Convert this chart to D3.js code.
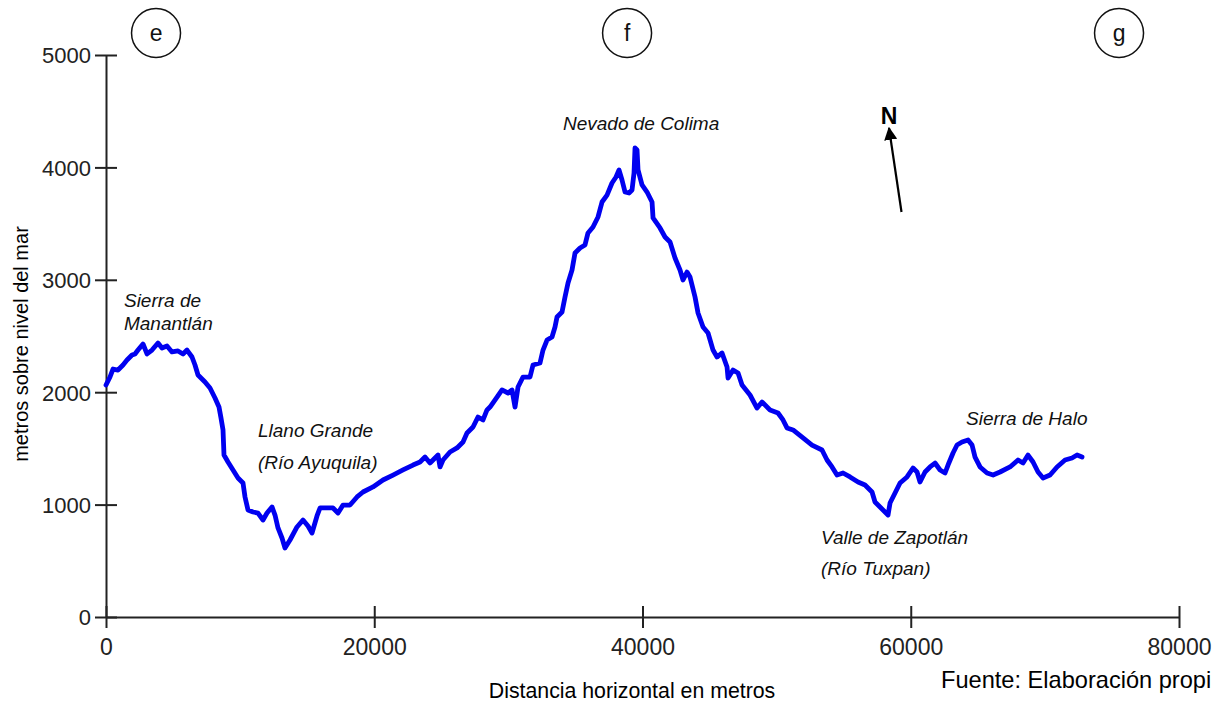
<!DOCTYPE html>
<html>
<head>
<meta charset="utf-8">
<script src="https://cdn.jsdelivr.net/npm/d3@7"></script>
<style>
  body { margin: 0; background: #fff; overflow: hidden; }
  svg { display: block; }
</style>
</head>
<body>
<svg id="chart" width="1215" height="704"></svg>
<script>
// Elevation profile e – f – g: horizontal distance (m) vs. altitude (m a.s.l.)
const distance = [
  0, 298, 522, 895, 1268, 1566, 1939, 2162, 2386, 2759, 3057, 3430, 3877, 4175, 4548,
  4921, 5368, 5741, 6039, 6412, 6636, 6860, 7381, 7754, 8127, 8425, 8574, 8724, 8798,
  9096, 9469, 9842, 10215, 10364, 10588, 10960, 11333, 11706, 12004, 12377, 12601,
  12824, 13123, 13346, 13719, 14241, 14688, 15061, 15359, 15732, 15956, 16925, 17298,
  17671, 18193, 18715, 19162, 19908, 20653, 21399, 22144, 22890, 23412, 23785, 24157,
  24381, 24754, 24903, 25127, 25649, 26171, 26618, 26916, 27364, 27736, 28109, 28407,
  28631, 29153, 29526, 29973, 30271, 30495, 30719, 31092, 31613, 31837, 32359, 32583,
  32881, 33254, 33477, 33627, 34000, 34223, 34447, 34745, 34969, 35341, 35714, 35938,
  36311, 36684, 36982, 37355, 37727, 38026, 38249, 38473, 38697, 38995, 39219, 39368,
  39443, 39592, 39667, 39965, 40338, 40711, 40786, 41306, 41679, 42052, 42425, 42797,
  43021, 43320, 43543, 43916, 44140, 44513, 44886, 45259, 45557, 45930, 46303, 46378,
  46751, 47124, 47422, 48017, 48539, 48912, 49508, 50104, 50477, 50775, 51223, 51969,
  52639, 53385, 53758, 54131, 54503, 54951, 55473, 56069, 56591, 57113, 57336, 57709,
  58082, 58306, 58455, 58828, 59201, 59723, 60170, 60469, 60692, 61065, 61438, 61811,
  62184, 62557, 62780, 63153, 63451, 63824, 64271, 64570, 64793, 65166, 65688, 66135,
  66657, 67402, 67999, 68371, 68744, 69117, 69490, 69863, 70385, 70907, 71503, 72025,
  72398, 72771
];
const elevation = [
  2064, 2135, 2206, 2197, 2242, 2286, 2331, 2340, 2375, 2429, 2340, 2375, 2438, 2393, 2411,
  2358, 2367, 2340, 2375, 2313, 2242, 2153, 2091, 2037, 1948, 1868, 1770, 1664, 1441,
  1379, 1308, 1237, 1192, 1068, 952, 934, 925, 863, 925, 979, 907,
  792, 703, 614, 685, 801, 863, 810, 747, 899, 970, 970, 925,
  996, 996, 1068, 1112, 1157, 1219, 1263, 1308, 1352, 1379, 1423, 1370,
  1397, 1441, 1335, 1397, 1468, 1504, 1557, 1637, 1690, 1779, 1753, 1842,
  1868, 1957, 2020, 1993, 2020, 1868, 2046, 2135, 2135, 2242, 2260, 2375,
  2464, 2491, 2580, 2669, 2714, 2847, 2972, 3087, 3239, 3283, 3310, 3417,
  3470, 3559, 3692, 3754, 3861, 3915, 3977, 3888, 3781, 3772, 3799, 3950,
  4173, 4155, 3977, 3844, 3781, 3692, 3550, 3461, 3381, 3336, 3194, 3087,
  2998, 3069, 3025, 2847, 2705, 2580, 2527, 2375, 2313, 2349, 2224, 2126,
  2197, 2171, 2064, 1975, 1859, 1913, 1842, 1815, 1753, 1682, 1664, 1593,
  1530, 1486, 1397, 1335, 1263, 1281, 1246, 1201, 1174, 1112, 1023, 979,
  934, 907, 1014, 1103, 1192, 1246, 1326, 1290, 1201, 1290, 1335, 1370,
  1308, 1281, 1352, 1459, 1530, 1557, 1575, 1530, 1423, 1335, 1281, 1263,
  1290, 1335, 1397, 1370, 1441, 1379, 1290, 1237, 1263, 1335, 1397, 1415,
  1441, 1423
];

const xTicks = [0, 20000, 40000, 60000, 80000];
const yTicks = [0, 1000, 2000, 3000, 4000, 5000];

// Section letters along the profile and the distance where each sits
const sectionLetters = ["e", "f", "g"];
const sectionDistance = [3730, 38850, 75530];

// Place names (one entry per label, possibly two lines)
const placeNames = [
  ["Sierra de", "Manantlán"],
  ["Llano Grande", "(Río Ayuquila)"],
  ["Nevado de Colima"],
  ["Valle de Zapotlán", "(Río Tuxpan)"],
  ["Sierra de Halo"]
];
// Anchor of each place name in data units: [distance, elevation]
const placeAnchor = [
  [1340, 2760],
  [11330, 1600],
  [34070, 4333],
  [53310, 650],
  [64120, 1708]
];
const placeLineGap = [23, 32, 0, 31, 0];

const xTitle = "Distancia horizontal en metros";
const yTitle = "metros sobre nivel del mar";
const sourceNote = "Fuente: Elaboración propi";
const northLabel = "N";

// ---------- layout ----------
const svg = d3.select("#chart");
const plot = { left: 106, right: 1179, top: 55, bottom: 617 };

const x = d3.scaleLinear().domain([0, 80000]).range([plot.left, plot.right]);
const y = d3.scaleLinear().domain([0, 5000]).range([plot.bottom, plot.top]);

const tickFont = "'Liberation Sans', Arial, sans-serif";
const axisColor = "#222";

// y axis
const gy = svg.append("g")
  .attr("transform", `translate(${plot.left},0)`)
  .call(d3.axisLeft(y).tickValues(yTicks).tickFormat(d3.format("d")).tickSizeOuter(0));
gy.select(".domain").attr("stroke", axisColor).attr("stroke-width", 2);
gy.selectAll(".tick line").attr("x1", -11).attr("x2", 11)
  .attr("stroke", axisColor).attr("stroke-width", 2);
gy.selectAll(".tick text").attr("x", -15).attr("dy", "0.36em")
  .attr("fill", "#222").style("font-family", tickFont).style("font-size", "22px");

// x axis
const gx = svg.append("g")
  .attr("transform", `translate(0,${plot.bottom})`)
  .call(d3.axisBottom(x).tickValues(xTicks).tickFormat(d3.format("d")).tickSizeOuter(0));
gx.select(".domain").attr("stroke", axisColor).attr("stroke-width", 2);
gx.selectAll(".tick line").attr("y1", -11).attr("y2", 11)
  .attr("stroke", axisColor).attr("stroke-width", 2);
gx.selectAll(".tick text").attr("y", 38).attr("dy", 0)
  .attr("fill", "#222").style("font-family", tickFont).style("font-size", "23px");

// profile line
const profile = distance.map((d, i) => [d, elevation[i]]);
svg.append("path")
  .datum(profile)
  .attr("fill", "none")
  .attr("stroke", "#0000f0")
  .attr("stroke-width", 4.8)
  .attr("stroke-linejoin", "round")
  .attr("stroke-linecap", "round")
  .attr("d", d3.line().x(p => x(p[0])).y(p => y(p[1])));

// axis titles
svg.append("text")
  .attr("transform", `translate(28,${(plot.top + plot.bottom) / 2 + 8}) rotate(-90)`)
  .attr("text-anchor", "middle")
  .style("font-family", tickFont).style("font-size", "20px")
  .text(yTitle);

svg.append("text")
  .attr("x", 632).attr("y", 698)
  .attr("text-anchor", "middle")
  .style("font-family", tickFont).style("font-size", "21.3px")
  .text(xTitle);

svg.append("text")
  .attr("x", 941).attr("y", 688)
  .style("font-family", tickFont).style("font-size", "23.6px")
  .text(sourceNote);

// place names
placeNames.forEach((lines, i) => {
  const [d, e] = placeAnchor[i];
  const t = svg.append("text")
    .attr("x", x(d)).attr("y", y(e))
    .style("font-family", tickFont).style("font-size", "19px").style("font-style", "italic")
    .attr("fill", "#111");
  lines.forEach((line, j) => {
    t.append("tspan").attr("x", x(d)).attr("dy", j === 0 ? 0 : placeLineGap[i]).text(line);
  });
});

// section letters in circles
const letters = svg.append("g").selectAll("g")
  .data(sectionLetters)
  .join("g")
  .attr("transform", (d, i) => `translate(${x(sectionDistance[i])},33)`);
letters.append("circle").attr("r", 24.5)
  .attr("fill", "none").attr("stroke", "#111").attr("stroke-width", 1.5);
letters.append("text").attr("text-anchor", "middle").attr("dy", "0.35em")
  .style("font-family", tickFont).style("font-size", "23px").attr("fill", "#111")
  .text(d => d);

// north arrow
svg.append("defs").append("marker")
  .attr("id", "head").attr("viewBox", "0 0 10 10")
  .attr("refX", 9).attr("refY", 5)
  .attr("markerWidth", 6).attr("markerHeight", 6)
  .attr("orient", "auto")
  .append("path").attr("d", "M0,0 L10,5 L0,10 Z").attr("fill", "#000");
svg.append("line")
  .attr("x1", 901.5).attr("y1", 212).attr("x2", 889).attr("y2", 128)
  .attr("stroke", "#000").attr("stroke-width", 2.2)
  .attr("marker-end", "url(#head)");
svg.append("text")
  .attr("x", 889).attr("y", 124).attr("text-anchor", "middle")
  .style("font-family", tickFont).style("font-size", "23px").style("font-weight", "bold")
  .text(northLabel);
</script>
</body>
</html>
